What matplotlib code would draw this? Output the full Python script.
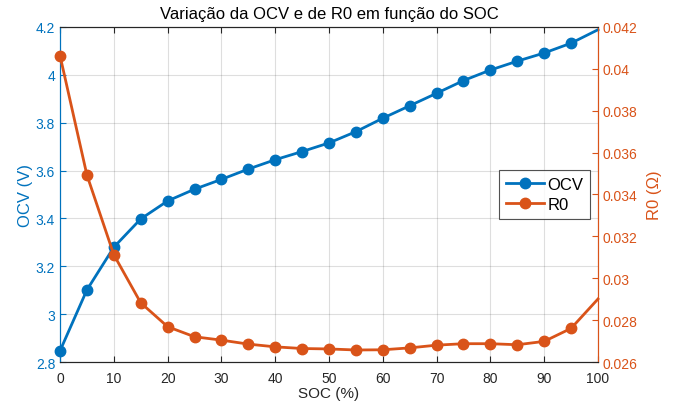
import numpy as np
import matplotlib
matplotlib.use('Agg')
import matplotlib.pyplot as plt
from matplotlib.ticker import FormatStrFormatter

soc = [0, 5, 10, 15, 20, 25, 30, 35, 40, 45, 50, 55, 60, 65, 70, 75, 80, 85, 90, 95, 100]
ocv = [2.848, 3.102, 3.28, 3.398, 3.473, 3.522, 3.563, 3.606, 3.645, 3.679, 3.715,
       3.762, 3.818, 3.870, 3.922, 3.975, 4.019, 4.056, 4.090, 4.131, 4.187]
r0 = [0.04062, 0.03493, 0.03113, 0.02884, 0.0277, 0.02722, 0.02706, 0.02687, 0.02674,
      0.02666, 0.02664, 0.02659, 0.0266, 0.02669, 0.02682, 0.02689, 0.02689, 0.02684,
      0.0270, 0.02762, 0.02902]

blue = '#0072BD'
orange = '#D95319'

plt.rcParams['font.family'] = ['Liberation Sans', 'DejaVu Sans']

fig = plt.figure(figsize=(6.75, 4.06), dpi=100)
ax1 = fig.add_axes([0.0889, 0.105, 0.797, 0.827])
ax2 = ax1.twinx()

l1, = ax1.plot(soc, ocv, '-o', color=blue, lw=2, ms=7.5, markevery=slice(0, -1),
               label='OCV', clip_on=False, zorder=3)
l2, = ax2.plot(soc, r0, '-o', color=orange, lw=2, ms=7.5, markevery=slice(0, -1),
               label='R0', clip_on=False, zorder=3)

ax1.set_xlim(0, 100)
ax1.set_ylim(2.8, 4.2)
ax2.set_ylim(0.026, 0.042)
ax1.set_xticks(np.arange(0, 101, 10))
ax1.set_yticks(np.arange(2.8, 4.21, 0.2))
ax2.set_yticks(np.arange(0.026, 0.0421, 0.002))
ax1.yaxis.set_major_formatter(FormatStrFormatter('%g'))
ax2.yaxis.set_major_formatter(FormatStrFormatter('%g'))

ax1.grid(True, color='#262626', alpha=0.15, lw=0.8)
ax1.set_axisbelow(True)

ax1.tick_params(axis='x', direction='in', top=True, colors='#262626', labelsize=10,
                length=4, pad=6)
ax1.tick_params(axis='y', direction='in', colors=blue, labelsize=10, length=4)
ax2.tick_params(axis='y', direction='in', colors=orange, labelsize=10, length=4)

for s in ['top', 'bottom']:
    ax1.spines[s].set_color('#262626')
    ax2.spines[s].set_color('#262626')
ax1.spines['left'].set_color(blue)
ax2.spines['left'].set_color(blue)
ax2.spines['right'].set_color(orange)
ax1.spines['right'].set_color(orange)

ax1.set_xlabel('SOC (%)', fontsize=11, color='#262626', labelpad=1)
ax1.set_ylabel('OCV (V)', fontsize=12, color=blue, labelpad=2)
ax2.set_ylabel('R0 (Ω)', fontsize=12, color=orange, labelpad=7)
ax1.set_title('Variação da OCV e de R0 em função do SOC', fontsize=12, color='black', pad=6)

leg = ax2.legend(handles=[l1, l2], loc='center right', bbox_to_anchor=(0.985, 0.5),
                 fontsize=12, frameon=True, fancybox=False, edgecolor='#262626',
                 handlelength=2.3, borderpad=0.4, labelspacing=0.3, handletextpad=0.2,
                 borderaxespad=0)
leg.get_frame().set_linewidth(0.8)

fig.savefig('out.png', dpi=100)
